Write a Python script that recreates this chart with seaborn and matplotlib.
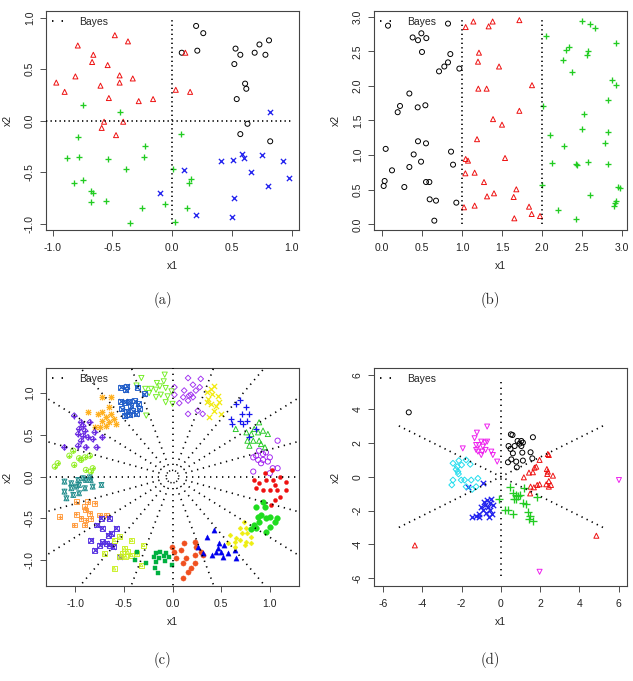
import numpy as np
import pandas as pd
import matplotlib
matplotlib.use("Agg")
import matplotlib.pyplot as plt
import seaborn as sns
from matplotlib.lines import Line2D

# ---------------- data: panel (a) ----------------
A_black = [(0.20, 0.92), (0.26, 0.85), (0.08, 0.66), (0.21, 0.68), (0.53, 0.70), (0.57, 0.64),
           (0.69, 0.66), (0.73, 0.74), (0.81, 0.78), (0.78, 0.64), (0.52, 0.55), (0.61, 0.36),
           (0.62, 0.31), (0.54, 0.21), (0.63, -0.03), (0.57, -0.13), (0.82, -0.20)]
A_red = [(-0.48, 0.83), (-0.79, 0.73), (-0.37, 0.77), (-0.66, 0.64), (-0.67, 0.57), (-0.54, 0.54),
         (-0.97, 0.37), (-0.81, 0.43), (-0.60, 0.34), (-0.44, 0.44), (-0.44, 0.37), (-0.33, 0.41),
         (-0.90, 0.28), (-0.53, 0.22), (-0.28, 0.19), (-0.16, 0.21), (0.03, 0.30), (0.15, 0.28),
         (0.11, 0.66), (-0.57, -0.01), (-0.41, -0.01), (-0.59, -0.07), (-0.47, -0.14)]
A_green = [(-0.75, 0.15), (-0.44, 0.08), (-0.79, -0.16), (0.07, -0.13), (-0.23, -0.25), (-0.88, -0.36),
           (-0.78, -0.35), (-0.54, -0.37), (-0.24, -0.35), (-0.39, -0.47), (0.01, -0.47), (-0.82, -0.60),
           (-0.75, -0.58), (0.16, -0.57), (0.14, -0.60), (-0.68, -0.68), (-0.66, -0.70), (-0.68, -0.79),
           (-0.55, -0.78), (-0.06, -0.81), (-0.25, -0.85), (0.12, -0.85), (-0.35, -0.99), (0.02, -0.98)]
A_blue = [(0.82, 0.08), (0.58, -0.32), (0.60, -0.36), (0.51, -0.38), (0.41, -0.39), (0.75, -0.33),
          (0.93, -0.39), (0.66, -0.50), (0.98, -0.56), (0.80, -0.63), (0.10, -0.48), (-0.10, -0.70),
          (0.52, -0.75), (0.50, -0.93), (0.20, -0.92)]

# ---------------- data: panel (b) ----------------
B_black = [(0.075, 2.87), (0.825, 2.90), (0.383, 2.70), (0.492, 2.76), (0.450, 2.66), (0.554, 2.69),
           (0.500, 2.49), (0.854, 2.46), (0.825, 2.34), (0.779, 2.28), (0.713, 2.21), (0.967, 2.25),
           (0.342, 1.89), (0.225, 1.71), (0.196, 1.62), (0.446, 1.69), (0.542, 1.72), (0.046, 1.09),
           (0.450, 1.20), (0.550, 1.17), (0.863, 1.05), (0.396, 1.01), (0.488, 0.905), (0.342, 0.828),
           (0.888, 0.862), (0.125, 0.780), (0.033, 0.626), (0.021, 0.554), (0.279, 0.539), (0.550, 0.611),
           (0.592, 0.611), (0.596, 0.361), (0.675, 0.342), (0.929, 0.313), (0.654, 0.053)]
B_red = [(1.046, 2.85), (1.142, 2.93), (1.383, 2.93), (1.333, 2.86), (1.717, 2.95), (1.212, 2.48),
         (1.200, 2.35), (1.463, 2.28), (1.204, 1.96), (1.308, 1.96), (1.875, 2.01), (1.717, 1.64),
         (1.388, 1.52), (1.500, 1.44), (1.188, 1.23), (1.538, 0.958), (1.046, 0.944), (1.075, 0.920),
         (1.042, 0.737), (1.158, 0.746), (1.275, 0.611), (1.400, 0.448), (1.313, 0.404), (1.679, 0.506),
         (1.646, 0.395), (1.025, 0.246), (1.158, 0.270), (1.838, 0.255), (1.871, 0.149), (1.654, 0.087),
         (1.975, 0.120)]
B_green = [(2.50, 2.94), (2.60, 2.90), (2.66, 2.84), (2.054, 2.72), (2.338, 2.56), (2.296, 2.52),
           (2.267, 2.38), (2.571, 2.51), (2.567, 2.44), (2.925, 2.62), (2.379, 2.20), (2.879, 2.08),
           (2.925, 2.01), (2.008, 1.71), (2.829, 1.79), (2.529, 1.60), (2.496, 1.37), (2.829, 1.33),
           (2.788, 1.18), (2.104, 1.29), (2.279, 1.13), (2.129, 0.886), (2.429, 0.876), (2.433, 0.852),
           (2.575, 0.896), (2.829, 0.867), (2.000, 0.568), (2.950, 0.539), (2.975, 0.520), (2.600, 0.424),
           (2.925, 0.332), (2.917, 0.303), (2.900, 0.265), (2.196, 0.207), (2.429, 0.082)]

# ---------------- data: panel (c), 20 classes ----------------
C_P01 = [(1.08, 0.43), (0.89, 0.31), (0.93, 0.27), (0.96, 0.29), (1.00, 0.23), (0.86, 0.25), (0.83, 0.23),
         (0.88, 0.20), (0.93, 0.20), (0.98, 0.18), (0.91, 0.16), (1.03, 0.10), (1.00, 0.04), (0.83, 0.06),
         (1.08, 0.10)]
C_P02 = [(0.89, 0.65), (0.84, 0.57), (0.81, 0.51), (0.88, 0.53), (0.93, 0.55), (0.98, 0.51), (0.77, 0.43),
         (0.83, 0.43), (0.89, 0.43), (0.91, 0.39), (0.95, 0.35), (0.79, 0.37), (0.76, 0.53), (0.65, 0.57)]
C_P03 = [(0.69, 0.92), (0.65, 0.87), (0.76, 0.83), (0.71, 0.75), (0.79, 0.75), (0.60, 0.69), (0.69, 0.67),
         (0.77, 0.67), (0.72, 0.63), (0.61, 0.63), (0.86, 0.57), (0.79, 0.47)]
C_P04 = [(0.40, 1.05), (0.43, 1.09), (0.41, 0.99), (0.36, 0.93), (0.47, 0.97), (0.48, 0.89), (0.40, 0.87),
         (0.35, 0.89), (0.45, 0.85), (0.38, 0.71), (0.43, 0.79), (0.50, 0.75), (0.35, 1.01)]
C_P05 = [(0.02, 1.07), (0.16, 1.18), (0.21, 1.10), (0.29, 1.17), (0.28, 1.07), (0.12, 1.03), (0.17, 0.97),
         (0.11, 0.95), (0.02, 0.98), (0.07, 0.88), (0.19, 0.98), (0.16, 0.91), (0.26, 0.79), (0.31, 0.75),
         (0.16, 0.75), (0.21, 0.95), (0.24, 1.03)]
C_P06 = [(-0.32, 1.18), (-0.08, 1.22), (-0.16, 1.12), (-0.09, 1.14), (-0.37, 1.09), (-0.28, 1.05),
         (-0.22, 1.05), (-0.17, 1.04), (-0.13, 1.08), (-0.07, 1.06), (-0.24, 1.00), (-0.17, 0.95),
         (-0.12, 0.98), (-0.05, 0.96), (-0.07, 0.89), (0.00, 0.87), (-0.01, 1.02), (-0.27, 0.73)]
C_P07 = [(-0.53, 1.07), (-0.47, 1.08), (-0.48, 1.04), (-0.36, 1.07), (-0.29, 0.99), (-0.53, 0.90),
         (-0.49, 0.89), (-0.45, 0.90), (-0.39, 0.91), (-0.43, 0.85), (-0.35, 0.87), (-0.52, 0.81),
         (-0.47, 0.78), (-0.49, 0.73), (-0.44, 0.74), (-0.34, 0.81), (-0.37, 0.75), (-0.41, 0.79)]
C_P08 = [(-0.87, 0.77), (-0.77, 0.75), (-0.72, 0.77), (-0.68, 0.71), (-0.63, 0.75), (-0.72, 0.67),
         (-0.65, 0.65), (-0.60, 0.69), (-0.58, 0.63), (-0.68, 0.61), (-0.75, 0.59), (-0.63, 0.95),
         (-0.72, 0.95), (-0.65, 0.83), (-0.80, 0.59)]
C_P09 = [(-1.01, 0.73), (-0.94, 0.65), (-0.92, 0.61), (-0.96, 0.57), (-0.90, 0.55), (-0.97, 0.51),
         (-0.87, 0.47), (-0.92, 0.49), (-0.82, 0.45), (-0.72, 0.47), (-1.11, 0.35), (-0.97, 0.37),
         (-0.89, 0.35), (-0.78, 0.35), (-0.85, 0.65), (-0.80, 0.53), (-0.94, 0.43)]
C_P10 = [(-1.02, 0.31), (-1.06, 0.25), (-1.18, 0.16), (-1.21, 0.12), (-0.96, 0.22), (-0.90, 0.23),
         (-0.94, 0.20), (-0.85, 0.25), (-1.01, 0.14), (-0.89, 0.08), (-0.82, 0.10), (-0.84, 0.06)]
C_P11 = [(-1.11, -0.06), (-1.04, -0.08), (-0.97, -0.04), (-0.89, -0.04), (-0.84, -0.04), (-0.73, -0.10),
         (-0.82, -0.12), (-1.11, -0.18), (-1.04, -0.14), (-0.99, -0.12), (-0.96, -0.10), (-0.90, -0.14),
         (-1.02, -0.22), (-0.96, -0.20), (-1.09, -0.26), (-0.85, -0.01), (-0.92, -0.02)]
C_P12 = [(-0.99, -0.30), (-0.87, -0.30), (-0.80, -0.32), (-0.90, -0.36), (-0.89, -0.40), (-0.85, -0.44),
         (-0.94, -0.50), (-0.89, -0.52), (-0.84, -0.50), (-0.75, -0.46), (-0.68, -0.46), (-0.90, -0.58),
         (-1.01, -0.58), (-1.16, -0.48), (-0.99, -0.45)]
C_P13 = [(-0.73, -0.50), (-0.65, -0.50), (-0.78, -0.58), (-0.72, -0.62), (-0.58, -0.62), (-0.63, -0.68),
         (-0.66, -0.70), (-0.84, -0.76), (-0.72, -0.78), (-0.68, -0.80), (-0.65, -0.82), (-0.75, -0.82),
         (-0.80, -0.88), (-0.61, -0.84), (-0.54, -0.96)]
C_P14 = [(-0.54, -0.72), (-0.60, -0.76), (-0.42, -0.76), (-0.30, -0.82), (-0.49, -0.86), (-0.46, -0.90),
         (-0.51, -0.92), (-0.48, -0.96), (-0.42, -0.94), (-0.37, -0.92), (-0.54, -0.96), (-0.70, -0.92),
         (-0.60, -1.10), (-0.32, -1.06)]
C_P15 = [(-0.36, -0.90), (-0.27, -1.04), (-0.39, -1.00), (-0.15, -1.16), (-0.17, -0.92), (-0.13, -0.90),
         (-0.07, -0.91), (-0.19, -0.96), (-0.14, -0.98), (-0.09, -0.95), (-0.04, -0.96), (-0.17, -1.02),
         (-0.08, -1.01), (-0.01, -1.06), (-0.18, -1.10)]
C_P16 = [(-0.01, -0.84), (0.02, -0.90), (0.09, -0.88), (0.12, -0.80), (0.23, -0.78), (0.24, -0.84),
         (0.23, -0.94), (0.29, -0.90), (0.31, -0.94), (0.14, -0.98), (0.04, -0.98), (0.11, -1.04),
         (0.23, -1.04), (0.19, -1.10), (0.16, -1.14), (0.11, -1.22)]
C_P17 = [(0.35, -0.72), (0.43, -0.64), (0.26, -0.84), (0.31, -0.92), (0.41, -0.94), (0.48, -0.80),
         (0.47, -0.86), (0.50, -0.90), (0.52, -0.96), (0.45, -0.90), (0.53, -0.82), (0.57, -0.92),
         (0.64, -0.88), (0.65, -0.98)]
C_P18 = [(0.73, -0.54), (0.76, -0.62), (0.69, -0.62), (0.71, -0.68), (0.77, -0.68), (0.81, -0.72),
         (0.59, -0.70), (0.65, -0.74), (0.57, -0.80), (0.64, -0.78), (0.69, -0.76), (0.76, -0.78),
         (0.74, -0.82), (0.81, -0.80), (0.64, -0.84)]
C_P19 = [(0.93, -0.30), (0.86, -0.36), (0.95, -0.36), (0.91, -0.46), (0.88, -0.48), (0.96, -0.50),
         (1.00, -0.48), (1.07, -0.50), (1.05, -0.54), (0.89, -0.54), (0.84, -0.58), (1.00, -0.60),
         (0.86, -0.62), (0.96, -0.66), (0.81, -0.63)]
C_P20 = [(1.02, 0.08), (0.95, 0.04), (1.10, 0.00), (1.03, -0.04), (0.96, -0.04), (1.17, -0.06),
         (1.05, -0.10), (0.89, -0.08), (0.86, -0.14), (0.93, -0.16), (1.00, -0.16), (1.07, -0.16),
         (1.17, -0.16), (1.10, -0.24), (1.05, -0.28), (1.01, -0.34), (0.84, -0.04)]

C_colors = ["#A020F0", "#22C822", "#1515EE", "#F2EA10", "#A030F0", "#70EE20", "#1E5CC8", "#FFB020",
            "#6A2BE2", "#90EE20", "#1E8B8B", "#FF9A3C", "#5530E0", "#C8F020", "#00B040", "#F05020",
            "#0000EE", "#EEEE10", "#20DD20", "#EE1010"]

# ---------------- data: panel (d) ----------------
D_black = [(0.51, 2.50), (0.59, 2.46), (0.85, 2.11), (1.04, 2.11), (1.12, 2.01), (1.63, 2.33), (0.39, 1.81),
           (0.49, 1.64), (0.61, 1.38), (0.70, 1.81), (1.04, 1.81), (1.09, 1.42), (1.51, 1.44), (1.60, 1.08),
           (1.12, 0.95), (0.36, 0.85), (0.53, 1.02), (0.81, 0.55), (0.78, 0.89), (0.95, 1.95), (-4.69, 3.80)]
D_red = [(1.97, 0.99), (2.39, 1.34), (2.44, 1.28), (1.71, 0.53), (1.80, 0.59), (1.63, 0.26), (1.43, 0.24),
         (1.17, -0.04), (2.34, 0.45), (2.39, 0.30), (2.65, 0.06), (2.44, -0.26), (2.55, -0.49), (2.44, -0.59),
         (2.31, -0.45), (1.97, -0.45), (1.85, -0.49), (1.68, -0.63), (1.51, -0.59), (1.49, -0.99),
         (2.36, 0.16), (-4.38, -4.06), (4.86, -3.49)]
D_green = [(0.48, -0.63), (0.61, -0.95), (0.75, -1.08), (0.87, -1.14), (0.78, -1.34), (0.65, -1.34),
           (0.95, -1.08), (1.17, -0.69), (1.12, -1.58), (1.29, -1.62), (1.38, -2.11), (1.46, -2.33),
           (1.43, -2.52), (1.63, -2.60), (1.83, -1.22), (0.19, -1.97), (0.36, -1.97), (0.61, -2.21),
           (-0.12, -1.34)]
D_blue = [(-0.92, -0.39), (-1.65, -0.63), (-0.49, -1.32), (-0.87, -1.48), (-0.71, -1.38), (-0.58, -1.54),
          (-0.80, -1.67), (-1.00, -1.77), (-0.66, -1.81), (-0.41, -1.67), (-0.92, -1.97), (-0.58, -1.97),
          (-0.44, -2.21), (-1.09, -2.21), (-1.26, -2.33), (-1.46, -2.36), (-1.09, -2.40), (-0.61, -2.36),
          (-0.75, -2.13)]
D_cyan = [(-2.44, 0.79), (-2.14, 0.95), (-1.77, 0.99), (-1.56, 0.73), (-2.00, 0.69), (-2.28, 0.43),
          (-2.19, 0.30), (-2.16, 0.16), (-2.44, -0.20), (-2.50, -0.49), (-2.02, -0.20), (-1.85, -0.20),
          (-1.51, -0.20), (-1.77, -0.59), (-1.46, -0.75), (-1.26, -0.59), (-1.17, -0.10), (-2.22, 0.59)]
D_magenta = [(-0.70, 2.96), (-1.22, 2.60), (-1.34, 2.27), (-1.26, 1.87), (-1.12, 1.87), (-1.00, 2.07),
             (-0.80, 2.01), (-0.70, 2.07), (-1.26, 1.58), (-1.17, 1.48), (-1.00, 1.28), (-0.95, 1.48),
             (-0.78, 1.58), (-0.49, 1.48), (-0.41, 1.28), (-1.94, 1.67), (-0.19, 0.89), (-0.92, 1.77),
             (6.01, -0.20), (1.97, -5.62)]

# tick values
A_xticks = [-1.0, -0.5, 0.0, 0.5, 1.0]
A_yticks = [-1.0, -0.5, 0.0, 0.5, 1.0]
B_ticks = [0.0, 0.5, 1.0, 1.5, 2.0, 2.5, 3.0]
C_ticks = [-1.0, -0.5, 0.0, 0.5, 1.0]
D_ticks = [-6, -4, -2, 0, 2, 4, 6]

# ---------------- style ----------------
sns.set_theme(style="ticks")
plt.rcParams['font.family'] = ['Liberation Sans', 'DejaVu Sans']
plt.rcParams['axes.unicode_minus'] = False

W, H = 633, 681
fig = plt.figure(figsize=(W / 100, H / 100), dpi=100)

def px_axes(l, t, r, b):
    return fig.add_axes([l / W, 1 - b / H, (r - l) / W, (b - t) / H])

axA = px_axes(46, 11, 299, 230)
axB = px_axes(374, 11, 627, 230)
axC = px_axes(46, 368, 299, 586)
axD = px_axes(374, 368, 627, 586)

# marker specs: list of (marker, kind, size factor)
PCH = {
    1: [('o', 'open', 1.0)],
    2: [('^', 'open', 1.0)],
    3: [('+', 'line', 1.6)],
    4: [('x', 'line', 1.0)],
    5: [('D', 'open', 0.6)],
    6: [('v', 'open', 1.0)],
    7: [('s', 'open', 0.9), ('x', 'line', 0.9)],
    8: [('+', 'line', 1.3), ('x', 'line', 0.9)],
    9: [('D', 'open', 0.6), ('+', 'line', 1.0)],
    10: [('o', 'open', 1.0), ('+', 'line', 0.9)],
    11: [('^', 'open', 0.9), ('v', 'open', 0.9)],
    12: [('s', 'open', 0.9), ('+', 'line', 0.9)],
    13: [('s', 'open', 0.9), ('x', 'line', 0.9)],
    14: [('s', 'open', 0.9), ('^', 'open', 0.35)],
    15: [('s', 'fill', 0.85)],
    16: [('o', 'fill', 1.0)],
    17: [('^', 'fill', 1.0)],
    18: [('D', 'fill', 0.45)],
    19: [('o', 'fill', 1.2)],
    20: [('o', 'fill', 0.6)],
}

def draw(ax, pts, pch, color, s=13, lw=0.7):
    df = pd.DataFrame(pts, columns=["x1", "x2"])
    for mk, kind, f in PCH[pch]:
        kw = dict(data=df, x="x1", y="x2", ax=ax, s=s * f, legend=False, zorder=3)
        if kind == 'line':
            sns.scatterplot(marker=mk, color=color, linewidth=lw + 0.25, **kw)
        elif kind == 'fill':
            sns.scatterplot(marker=mk, color=color, edgecolor=color, linewidth=0.3, **kw)
        else:
            sns.scatterplot(marker=mk, color=color, facecolor='none', edgecolor=color,
                            linewidth=lw, **kw)

DOT = dict(color='black', lw=1.2, ls=(0, (0.8, 1.9)), zorder=4)

def style(ax, xlim, ylim, xt, yt, fmt):
    ax.set_xlim(*xlim)
    ax.set_ylim(*ylim)
    ax.set_xticks(xt)
    ax.set_yticks(yt)
    ax.set_xticklabels([fmt.format(v) for v in xt])
    ax.set_yticklabels([fmt.format(v) for v in yt])
    ax.tick_params(axis='both', direction='out', length=4, width=0.6, color='#333333',
                   labelsize=7.5, labelcolor='#222222', bottom=True, left=True)
    ax.tick_params(axis='x', pad=5.5)
    ax.tick_params(axis='y', pad=4.0, labelrotation=90)
    for lab in ax.get_yticklabels():
        lab.set_va('center')
    for sp in ax.spines.values():
        sp.set_visible(True)
        sp.set_color('#444444')
        sp.set_linewidth(0.8)
    ax.set_xlabel('x1', fontsize=7.5, color='#222222')
    ax.set_ylabel('x2', fontsize=7.5, color='#222222')
    ax.xaxis.label.set_va('center')
    ax.yaxis.label.set_va('center')
    ax.xaxis.set_label_coords(0.5, -36 / (ax.bbox.height))
    ax.yaxis.set_label_coords(-38 / (ax.bbox.width), 0.5)
    h = Line2D([], [], color='black', lw=1.3, ls=(0, (0.8, 4.5)))
    ax.legend([h], ['Bayes'], loc='upper left', bbox_to_anchor=(0, 1), frameon=False,
              fontsize=7.5, handlelength=1.6, handletextpad=1.0, borderaxespad=0,
              borderpad=0.55)
    ax.grid(False)

# ---- panel (a)
draw(axA, A_black, 1, 'black')
draw(axA, A_red, 2, '#EE1111')
draw(axA, A_green, 3, '#22CC22', s=15)
draw(axA, A_blue, 4, '#2222EE', s=14)
axA.plot([0, 0], [-1.0, 1.0], **DOT)
axA.plot([-1.06, 1.0], [0, 0], **DOT)
style(axA, (-1.056, 1.061), (-1.061, 1.065), A_xticks, A_yticks, '{:.1f}')

# ---- panel (b)
draw(axB, B_black, 1, 'black')
draw(axB, B_red, 2, '#EE1111')
draw(axB, B_green, 3, '#22CC22', s=15)
for xv in [1.0, 2.0]:
    axB.plot([xv, xv], [0.0, 3.0], **DOT)
style(axB, (-0.1, 3.0625), (-0.082, 3.082), B_ticks, B_ticks, '{:.1f}')

# ---- panel (c)
C_sets = [C_P01, C_P02, C_P03, C_P04, C_P05, C_P06, C_P07, C_P08, C_P09, C_P10,
          C_P11, C_P12, C_P13, C_P14, C_P15, C_P16, C_P17, C_P18, C_P19, C_P20]
for k, (pts, col) in enumerate(zip(C_sets, C_colors)):
    draw(axC, pts, k + 1, col, s=14, lw=0.65)
DOTC = dict(color='black', lw=1.2, ls=(0, (0.8, 2.8)), zorder=4)
for ang in np.deg2rad(np.arange(0, 180, 18)):
    r = np.array([0.14, 2.0])
    axC.plot(r * np.cos(ang), r * np.sin(ang), **DOTC)
    axC.plot(-r * np.cos(ang), -r * np.sin(ang), **DOTC)
th = np.linspace(0, 2 * np.pi, 60)
axC.plot(0.065 * np.cos(th), 0.075 * np.sin(th), color='black', lw=1.1,
         ls=(0, (0.8, 1.2)), zorder=4)
style(axC, (-1.30, 1.30), (-1.31, 1.30), C_ticks, C_ticks, '{:.1f}')

# ---- panel (d)
draw(axD, D_black, 1, 'black')
draw(axD, D_red, 2, '#EE1111')
draw(axD, D_green, 3, '#22CC22', s=16)
draw(axD, D_blue, 4, '#2222EE', s=15)
draw(axD, D_cyan, 5, '#22DDEE', s=15)
draw(axD, D_magenta, 6, '#EE22EE')
DOTD = dict(color='black', lw=1.2, ls=(0, (0.8, 2.6)), zorder=4)
axD.plot([0, 0], [-5.85, 5.85], **DOTD)
for ang in np.deg2rad([30, 150]):
    axD.plot([-6 * np.cos(ang), 6 * np.cos(ang)], [-6 * np.sin(ang), 6 * np.sin(ang)], **DOTD)
style(axD, (-6.46, 6.42), (-6.46, 6.42), D_ticks, D_ticks, '{:d}')

# captions
for txt, x, y in [('(a)', 163, 300), ('(b)', 490, 300), ('(c)', 163, 660), ('(d)', 490, 660)]:
    fig.text(x / W, 1 - y / H, txt, ha='center', va='center', fontsize=10.5,
             family=['cmr10', 'DejaVu Serif'])

fig.savefig('out.png', dpi=100)
